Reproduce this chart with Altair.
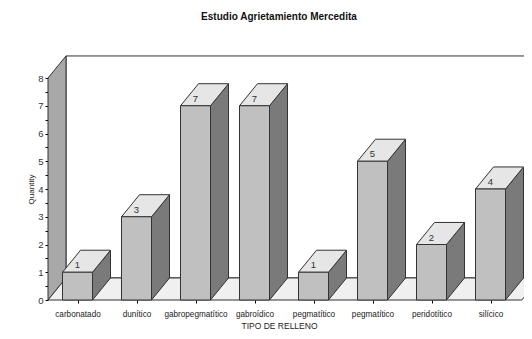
import altair as alt
import pandas as pd

categories = ["carbonatado", "dunítico", "gabropegmatítico", "gabroídico", "pegmatítico", "pegmatítico", "peridotítico", "silícico"]
values = [1, 3, 7, 7, 1, 5, 2, 4]
y_ticks = [0, 0.5, 1, 1.5, 2, 2.5, 3, 3.5, 4, 4.5, 5, 5.5, 6, 6.5, 7, 7.5, 8]

UX, UY = 59.0, 27.7
DX, DY = 18 / UX, 22 / UY
HALF = 15 / UX
XMAX = 476 / UX
YLIM = 8
FONT = "Liberation Sans"

front, side, top, labels = [], [], [], []
for i, (c, v) in enumerate(zip(categories, values)):
    k = f"b{i}"
    cx = i + 0.5
    front.append(dict(k=k, x=cx - HALF, x2=cx + HALF, y=0, y2=v))
    side += [dict(k=k, x=cx + HALF, y=0, y2=v), dict(k=k, x=cx + HALF + DX, y=DY, y2=v + DY)]
    top += [dict(k=k, x=cx - HALF, x2=cx + HALF, y=v), dict(k=k, x=cx - HALF + DX, x2=cx + HALF + DX, y=v + DY)]
    labels.append(dict(x=cx, y=v, t=str(v)))

xs = alt.Scale(domain=[0, XMAX], nice=False, zero=False)
ys = alt.Scale(domain=[0, YLIM], nice=False, zero=False)
LINE = "#333333"
names = "[" + ",".join(f"'{c}'" for c in categories) + "]"

x0 = alt.X("x:Q", scale=xs, title="TIPO DE RELLENO", axis=alt.Axis(
    values=[i + 0.5 for i in range(8)], labelExpr=f"{names}[floor(datum.value)]",
    domain=False, grid=False, tickSize=3, tickColor="#000000", labelFont=FONT, labelFontSize=8.2,
    labelColor="#222222", labelPadding=7, titleFont=FONT, titleFontSize=8.5, titleFontWeight="normal",
    titleColor="#222222", titleX=231, titleY=30, titleBaseline="bottom", labelOverlap=False, labelBound=False, labelFlush=False))
y0 = alt.Y("y:Q", scale=ys, title="Quantity", axis=alt.Axis(
    values=y_ticks, labelExpr="datum.value % 1 ? '' : format(datum.value, 'd')", domain=False, grid=False, tickSize=3,
    tickColor="#000000", labelFont=FONT, labelFontSize=9.5, labelColor="#333333", labelPadding=2,
    titleFont=FONT, titleFontSize=8, titleFontWeight="normal", titleColor="#222222", titleX=-13, titleY=111, labelOverlap=False))

wall_df = pd.DataFrame([dict(x=DX, x2=XMAX + 1, y=DY, y2=YLIM + DY)])
back = alt.Chart(wall_df).mark_rect(fill="#ffffff", stroke=LINE, strokeWidth=1).encode(
    x=x0, x2="x2:Q", y=y0, y2="y2:Q")
left_df = pd.DataFrame([dict(x=0, y=0, y2=YLIM), dict(x=DX, y=DY, y2=YLIM + DY)])
left = alt.Chart(left_df).mark_area(fill="#a8a8a8", stroke=LINE, strokeWidth=1, opacity=1).encode(
    x=x0, y=y0, y2="y2:Q")
floor_df = pd.DataFrame([dict(x=0, x2=8.03, y=0), dict(x=DX, x2=8.03 + DX, y=DY)])
floor = alt.Chart(floor_df).mark_area(orient="horizontal", fill="#f0f0f0", stroke=LINE, strokeWidth=1, opacity=1).encode(
    x=x0, x2="x2:Q", y=y0)

side_l = alt.Chart(pd.DataFrame(side)).mark_area(fill="#7a7a7a", stroke=LINE, strokeWidth=1, opacity=1).encode(
    x=x0, y=y0, y2="y2:Q", detail="k:N")
top_l = alt.Chart(pd.DataFrame(top)).mark_area(orient="horizontal", fill="#e6e6e6", stroke=LINE, strokeWidth=1, opacity=1).encode(
    x=x0, x2="x2:Q", y=y0, detail="k:N")
front_l = alt.Chart(pd.DataFrame(front)).mark_rect(fill="#c0c0c0", stroke=LINE, strokeWidth=1).encode(
    x=x0, x2="x2:Q", y=y0, y2="y2:Q")
text_l = alt.Chart(pd.DataFrame(labels)).mark_text(font=FONT, fontSize=9.5, color="#333333", dy=-7, baseline="middle").encode(
    x=x0, y=y0, text="t:N")

chart = alt.layer(back, left, floor, side_l, top_l, front_l, text_l).properties(
    width=476, height=222,
    autosize=alt.AutoSizeParams(type="none"),
    padding={"left": 40, "top": 70, "right": 0, "bottom": 31},
    title=alt.TitleParams("Estudio Agrietamiento Mercedita", font=FONT, fontSize=10, fontWeight="bold",
                          color="#111111", anchor="middle", dx=-7, offset=32),
).configure_view(stroke=None)

chart.save("out.html", embed_options={"renderer": "svg", "actions": False})
